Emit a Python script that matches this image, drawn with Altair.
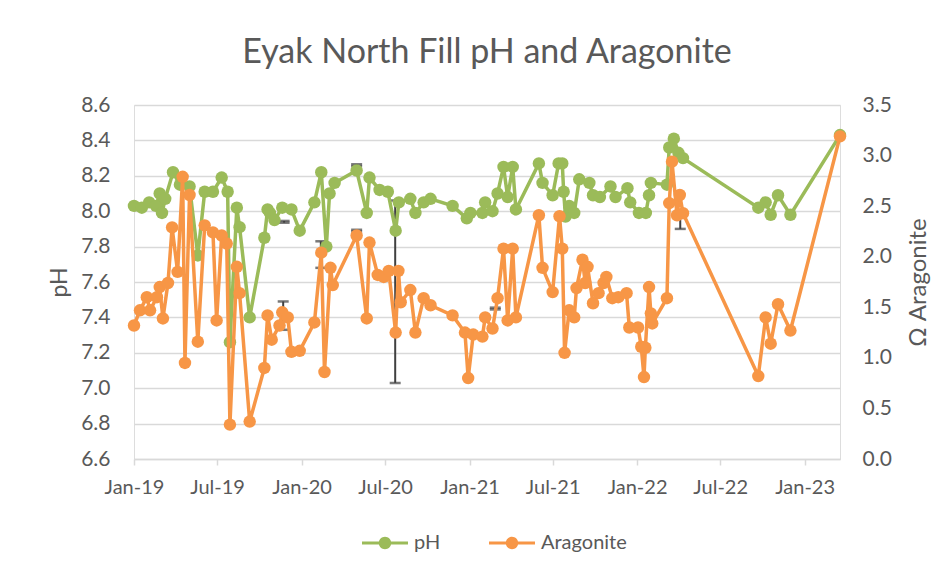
import altair as alt
import pandas as pd

# ---- data ----
ph_dates = [
    "2019-01-01", "2019-01-18", "2019-02-03", "2019-02-18", "2019-02-26", "2019-03-03",
    "2019-03-10", "2019-03-27", "2019-04-11", "2019-05-02", "2019-05-20", "2019-06-04",
    "2019-06-22", "2019-07-11", "2019-07-24", "2019-07-29", "2019-08-13", "2019-08-19",
    "2019-09-10", "2019-10-12", "2019-10-19", "2019-10-24", "2019-11-03", "2019-11-20",
    "2019-12-10", "2019-12-28", "2020-01-29", "2020-02-13", "2020-02-24", "2020-03-02",
    "2020-03-13", "2020-04-30", "2020-05-22", "2020-05-28", "2020-06-19", "2020-07-07",
    "2020-07-24", "2020-07-31", "2020-08-25", "2020-09-05", "2020-09-23", "2020-10-08",
    "2020-11-25", "2020-12-26", "2021-01-03", "2021-01-29", "2021-02-04", "2021-02-20",
    "2021-03-03", "2021-03-16", "2021-03-25", "2021-04-05", "2021-04-12", "2021-06-01",
    "2021-06-09", "2021-07-01", "2021-07-14", "2021-07-22", "2021-07-25", "2021-07-29",
    "2021-08-06", "2021-08-17", "2021-08-28", "2021-09-19", "2021-09-27", "2021-10-12",
    "2021-11-04", "2021-11-15", "2021-12-11", "2021-12-17", "2022-01-05", "2022-01-20",
    "2022-01-27", "2022-01-31", "2022-03-07", "2022-03-12", "2022-03-22", "2022-04-01",
    "2022-04-11", "2022-09-22", "2022-10-08", "2022-10-19", "2022-11-04", "2022-12-01",
    "2023-03-19",
]
ph_values = [
    8.03, 8.02, 8.05, 8.03, 8.10, 7.99,
    8.07, 8.22, 8.15, 8.14, 7.75, 8.11,
    8.11, 8.19, 8.11, 7.26, 8.02, 7.91,
    7.40, 7.85, 8.01, 7.99, 7.95, 8.02,
    8.01, 7.89, 8.05, 8.22, 7.80, 8.10,
    8.16, 8.23, 7.99, 8.19, 8.12, 8.11,
    7.89, 8.05, 8.07, 7.99, 8.05, 8.07,
    8.03, 7.96, 7.99, 7.99, 8.05, 8.00,
    8.10, 8.25, 8.08, 8.25, 8.01, 8.27,
    8.16, 8.09, 8.27, 8.27, 8.11, 7.97,
    8.03, 7.99, 8.18, 8.16, 8.09, 8.08,
    8.14, 8.08, 8.13, 8.05, 7.99, 7.99,
    8.09, 8.16, 8.15, 8.36, 8.41, 8.33,
    8.30, 8.02, 8.05, 7.98, 8.09, 7.98,
    8.43,
]

arag_dates = [
    "2019-01-01", "2019-01-14", "2019-01-29", "2019-02-05", "2019-02-20", "2019-02-26",
    "2019-03-05", "2019-03-16", "2019-03-25", "2019-04-06", "2019-04-17", "2019-04-22",
    "2019-05-02", "2019-05-20", "2019-06-04", "2019-06-22", "2019-06-30", "2019-07-11",
    "2019-07-22", "2019-07-29", "2019-08-13", "2019-08-19", "2019-09-10", "2019-10-12",
    "2019-10-19", "2019-10-28", "2019-11-14", "2019-11-20", "2019-12-02", "2019-12-10",
    "2019-12-28", "2020-01-29", "2020-02-13", "2020-02-20", "2020-03-04", "2020-03-09",
    "2020-04-30", "2020-05-22", "2020-05-28", "2020-06-15", "2020-06-28", "2020-07-09",
    "2020-07-24", "2020-07-30", "2020-08-04", "2020-08-25", "2020-09-05", "2020-09-23",
    "2020-10-08", "2020-11-25", "2020-12-22", "2020-12-29", "2021-01-09", "2021-01-29",
    "2021-02-04", "2021-02-20", "2021-03-03", "2021-03-16", "2021-03-25", "2021-04-05",
    "2021-04-12", "2021-06-01", "2021-06-09", "2021-07-01", "2021-07-16", "2021-07-22",
    "2021-07-27", "2021-08-06", "2021-08-17", "2021-08-22", "2021-09-04", "2021-09-10",
    "2021-09-15", "2021-09-27", "2021-10-09", "2021-10-20", "2021-10-26", "2021-11-08",
    "2021-11-21", "2021-12-09", "2021-12-15", "2022-01-03", "2022-01-10", "2022-01-16",
    "2022-01-19", "2022-01-27", "2022-01-31", "2022-02-03", "2022-03-07", "2022-03-12",
    "2022-03-18", "2022-03-29", "2022-04-04", "2022-04-11", "2022-09-22", "2022-10-08",
    "2022-10-19", "2022-11-04", "2022-12-01", "2023-03-19",
]
arag_values = [
    1.32, 1.47, 1.60, 1.47, 1.60, 1.70,
    1.39, 1.74, 2.29, 1.85, 2.79, 0.95,
    2.61, 1.16, 2.31, 2.24, 1.37, 2.21,
    2.13, 0.34, 1.90, 1.64, 0.37, 0.90,
    1.42, 1.18, 1.32, 1.45, 1.40, 1.06,
    1.07, 1.35, 2.04, 0.86, 1.89, 1.72,
    2.21, 1.39, 2.14, 1.82, 1.80, 1.86,
    1.25, 1.86, 1.55, 1.67, 1.25, 1.59,
    1.52, 1.42, 1.25, 0.80, 1.23, 1.21,
    1.40, 1.29, 1.59, 2.08, 1.37, 2.08,
    1.40, 2.41, 1.89, 1.65, 2.40, 2.08,
    1.05, 1.47, 1.40, 1.69, 1.97, 1.74,
    1.90, 1.54, 1.64, 1.74, 1.80, 1.59,
    1.60, 1.64, 1.30, 1.30, 1.11, 0.81,
    1.10, 1.70, 1.44, 1.34, 1.59, 2.53,
    2.94, 2.41, 2.61, 2.43, 0.82, 1.40,
    1.14, 1.53, 1.27, 3.19,
]

# error bars (expressed on the pH axis)
err_dates = ["2019-11-22", "2019-11-24", "2020-02-12", "2020-04-30", "2020-04-30",
             "2020-07-23", "2021-02-26", "2022-04-05"]
err_low = [7.33, 7.935, 7.68, 8.255, 7.885, 7.03, 7.445, 7.90]
err_high = [7.49, 7.945, 7.83, 8.265, 7.895, 8.06, 7.455, 7.97]

series_names = ["pH", "Aragonite"]
series_colors = ["#9BBB59", "#F79646"]
ph_ticks = [6.6, 6.8, 7.0, 7.2, 7.4, 7.6, 7.8, 8.0, 8.2, 8.4, 8.6]
arag_ticks = [0.0, 0.5, 1.0, 1.5, 2.0, 2.5, 3.0, 3.5]
x_tick_months = [(2019, 1), (2019, 7), (2020, 1), (2020, 7), (2021, 1),
                 (2021, 7), (2022, 1), (2022, 7), (2023, 1)]

ph_df = pd.DataFrame({"date": ph_dates, "value": ph_values, "series": "pH"})
ar_df = pd.DataFrame({"date": arag_dates, "value": arag_values, "series": "Aragonite"})
err_df = pd.DataFrame({"date": err_dates, "low": err_low, "high": err_high})

FONT = "Lato"
TXT = "#595959"
GRID = "#D9D9D9"

x_scale = alt.Scale(
    type="utc",
    domain=[alt.DateTime(year=2019, month=1, date=1, utc=True),
            alt.DateTime(year=2023, month=3, date=19, utc=True)],
    nice=False,
)
x_axis = alt.Axis(
    values=[alt.DateTime(year=y, month=m, date=1, utc=True) for y, m in x_tick_months],
    labelExpr="utcFormat(datum.value, '%b-%y')", title=None, grid=False,
    labelOverlap=False, labelFlush=False,
    domain=True, domainColor=GRID, domainWidth=1.5,
    ticks=True, tickColor=GRID, tickWidth=1.5, tickSize=6,
    labelPadding=12, labelFontSize=20, labelColor=TXT, labelFont=FONT,
)
x_enc = alt.X("date:T", scale=x_scale, axis=x_axis)

left_scale = alt.Scale(domain=[6.6, 8.6], nice=False, zero=False)
left_axis = alt.Axis(
    values=ph_ticks, format=".1f", orient="left", title="pH",
    grid=True, gridColor=GRID, gridWidth=1.5, domain=False, ticks=False, tickSize=0,
    labelPadding=24, labelFontSize=21, labelColor=TXT, labelFont=FONT,
    titleFontSize=23, titleColor=TXT, titleFont=FONT, titleFontWeight="normal",
    titleAngle=-90, titleX=-75, titleY=177, titleAlign="center", titleBaseline="middle",
)
right_scale = alt.Scale(domain=[0, 3.5], nice=False, zero=True)
right_axis = alt.Axis(
    values=arag_ticks, format=".1f", orient="right", title="Ω Aragonite",
    grid=False, domain=False, ticks=False, tickSize=0,
    labelPadding=22, labelFontSize=21, labelColor=TXT, labelFont=FONT,
    titleFontSize=24, titleColor=TXT, titleFont=FONT, titleFontWeight="normal",
    titleAngle=-90, titleX=78, titleY=177, titleAlign="center", titleBaseline="middle",
)

color_scale = alt.Scale(domain=series_names, range=series_colors)
legend_path = ("M-1,-0.07H1V0.07H-1Z "
               "M-0.27,0A0.27,0.27 0 1,1 0.27,0A0.27,0.27 0 1,1 -0.27,0Z")
legend = alt.Legend(
    title=None, orient="none", direction="horizontal", legendX=228, legendY=415,
    symbolType=legend_path, symbolSize=2116, symbolStrokeWidth=0,
    labelFontSize=20, labelColor=TXT, labelFont=FONT, labelOffset=6,
    columnPadding=48,
)

# error bars
err_rule = alt.Chart(err_df).mark_rule(color="#404040", strokeWidth=2).encode(
    x=x_enc,
    y=alt.Y("low:Q", scale=left_scale, axis=left_axis),
    y2="high:Q",
)
err_lo = alt.Chart(err_df).mark_tick(color="#404040", orient="horizontal", size=11, thickness=2.5).encode(
    x=x_enc, y=alt.Y("low:Q", scale=left_scale, axis=left_axis)
)
err_hi = alt.Chart(err_df).mark_tick(color="#404040", orient="horizontal", size=11, thickness=2.5).encode(
    x=x_enc, y=alt.Y("high:Q", scale=left_scale, axis=left_axis)
)

ph_line = alt.Chart(ph_df).mark_line(strokeWidth=3.5, color=series_colors[0]).encode(
    x=x_enc,
    y=alt.Y("value:Q", scale=left_scale, axis=left_axis),
)
ph_pts = alt.Chart(ph_df).mark_point(filled=True, size=155, opacity=1).encode(
    x=x_enc,
    y=alt.Y("value:Q", scale=left_scale, axis=left_axis),
    color=alt.Color("series:N", scale=color_scale, legend=legend),
)
ar_line = alt.Chart(ar_df).mark_line(strokeWidth=3.5, color=series_colors[1]).encode(
    x=x_enc,
    y=alt.Y("value:Q", scale=right_scale, axis=right_axis),
)
ar_pts = alt.Chart(ar_df).mark_point(filled=True, size=155, opacity=1).encode(
    x=x_enc,
    y=alt.Y("value:Q", scale=right_scale, axis=right_axis),
    color=alt.Color("series:N", scale=color_scale, legend=legend),
)

left = alt.layer(err_rule, err_lo, err_hi, ph_line, ph_pts)
right = alt.layer(ar_line, ar_pts)

chart = alt.layer(left, right).resolve_scale(y="independent").properties(
    width=706,
    height=354,
    autosize=alt.AutoSizeParams(type="none"),
    padding={"left": 126, "top": 97, "right": 100, "bottom": 105},
    title=alt.TitleParams(
        "Eyak North Fill pH and Aragonite", anchor="middle", fontSize=34,
        font=FONT, fontWeight="normal", color=TXT, offset=24,
    ),
).configure_view(stroke=None).configure(background="white")

chart.save("out.html", embed_options={"renderer": "svg", "actions": False})
